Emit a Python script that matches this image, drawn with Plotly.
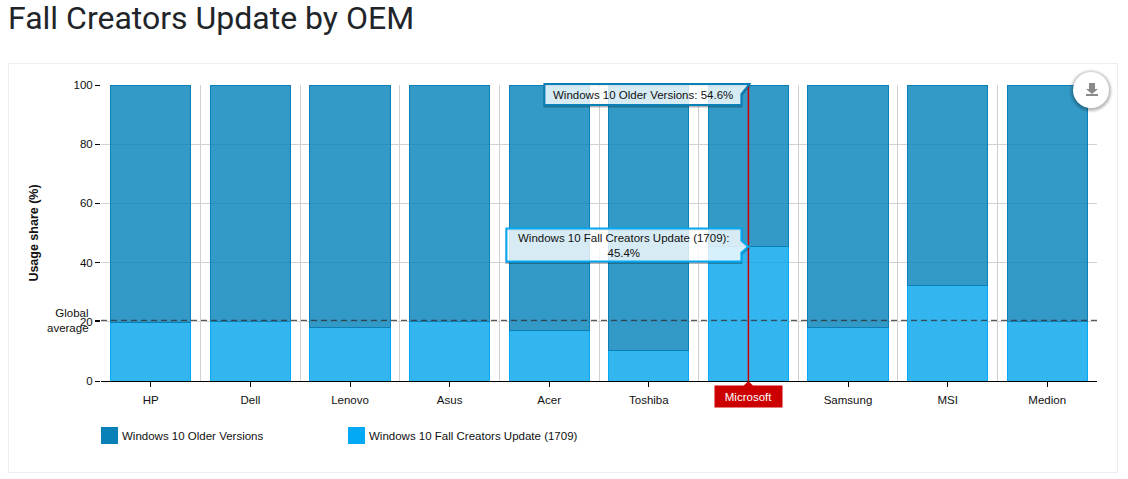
import plotly.graph_objects as go

oems = ["HP", "Dell", "Lenovo", "Asus", "Acer", "Toshiba", "Microsoft", "Samsung", "MSI", "Medion"]
fall_update = [19.6, 20.2, 18.1, 20.0, 17.0, 10.2, 45.4, 18.0, 32.2, 20.0]
older = [80.4, 79.8, 81.9, 80.0, 83.0, 89.8, 54.6, 82.0, 67.8, 80.0]
global_avg = 20.5
y_ticks = [0, 20, 40, 60, 80, 100]

OLDER_COL = "#0a80b8"
FALL_COL = "#03a9f4"
FONT = "Liberation Sans"

# plot area in page pixels
L, R, T, B = 101, 1097, 85, 381


def px(x):
    return (x - L) / (R - L)


def py(y):
    return (B - y) / (B - T)


idx = list(range(len(oems)))
hl = oems.index("Microsoft")
# the highlighted name sits in its own red label below
tick_text = ["" if i == hl else name for i, name in enumerate(oems)]

fig = go.Figure()
fig.add_bar(x=idx, y=fall_update, name="Windows 10 Fall Creators Update (1709)",
            marker=dict(color="rgba(0,164,236,0.8)", line=dict(color=FALL_COL, width=1)))
fig.add_bar(x=idx, y=older, name="Windows 10 Older Versions",
            marker=dict(color="rgba(0,128,184,0.8)", line=dict(color=OLDER_COL, width=1)))

fig.update_layout(
    width=1128, height=479, barmode="stack", bargap=0.195, showlegend=False,
    margin=dict(l=L, r=1128 - R, t=T, b=479 - B),
    paper_bgcolor="white", plot_bgcolor="white",
    font=dict(family=FONT, size=11.5, color="#111"),
    title=dict(text="Fall Creators Update by OEM", xref="container", yref="container",
               x=8 / 1128, y=1 - 18 / 479, xanchor="left", yanchor="middle",
               font=dict(family="Roboto", size=32, color="#212529")),
)
fig.update_xaxes(
    range=[-0.5, len(oems) - 0.5], tickmode="array", tickvals=idx, ticktext=tick_text,
    showgrid=False, zeroline=False, showline=True, linecolor="#000", linewidth=1,
    ticks="outside", ticklen=5, tickcolor="#000", ticklabelstandoff=3,
    tickfont=dict(size=11.5, color="#111"),
    minor=dict(tickmode="array", tickvals=[i + 0.5 for i in idx], showgrid=True,
               gridcolor="#d0d0d0", gridwidth=1, ticks=""),
)
fig.update_yaxes(
    range=[0, 100], tickmode="array", tickvals=y_ticks, showgrid=True, gridcolor="#d0d0d0",
    zeroline=False, showline=False, ticks="outside", ticklen=5, tickcolor="#000",
    tickfont=dict(size=11.5, color="#111"),
    minor=dict(tickmode="array", tickvals=[global_avg], ticks="outside", ticklen=5,
               tickcolor="#000", showgrid=False),
    title=dict(text="<b>Usage share (%)</b>", font=dict(size=12.5, color="#111"), standoff=32),
)


def pin_old(d=0):
    return f"M-204,{1 - d} L1,{1 - d} L-7,{-9 - d} L-7,{-20 - d} L-204,{-20 - d} Z"


def pin_fall(d=0):
    return (f"M-242,{18 - d} L-7,{18 - d} L-7,{6 - d} L0,{-d} L-7,{-6 - d} "
            f"L-7,{-15 - d} L-242,{-15 - d} Z")


shapes = []
# card behind the chart
shapes.append(dict(type="rect", xref="paper", yref="paper", x0=px(8.5), x1=px(1117.5), y0=py(472.5),
                   y1=py(63.5), line=dict(color="#eeeeee", width=1), fillcolor="white", layer="below"))
# global average
shapes.append(dict(type="line", xref="paper", yref="y", x0=0, x1=1, y0=global_avg, y1=global_avg,
                   line=dict(color="#333", width=1, dash="6px,4px")))
# crosshair
shapes.append(dict(type="line", xref="x", yref="paper", x0=hl, x1=hl, y0=0, y1=1,
                   line=dict(color="#cc0000", width=1.5)))
# pointer on the highlighted label
shapes.append(dict(type="path", xref="x", yref="paper", xsizemode="pixel", ysizemode="pixel",
                   xanchor=hl, yanchor=0, path="M-5,-5 L0,0 L5,-5 Z",
                   fillcolor="#cc0000", line=dict(width=0)))
# tooltips with a thin shadow line under them; paper yref keeps the top one from being clipped
for yref, anchor, pin, col in [("paper", 1, pin_old, OLDER_COL), ("y", fall_update[hl], pin_fall, FALL_COL)]:
    shapes.append(dict(type="path", xref="x", yref=yref, xsizemode="pixel", ysizemode="pixel",
                       xanchor=hl, yanchor=anchor, path=pin(1.5),
                       fillcolor="rgba(0,0,0,0)", line=dict(color="rgba(0,0,0,0.28)", width=2)))
    shapes.append(dict(type="path", xref="x", yref=yref, xsizemode="pixel", ysizemode="pixel",
                       xanchor=hl, yanchor=anchor, path=pin(),
                       fillcolor="rgba(255,255,255,0.8)", line=dict(color=col, width=2)))
# download button with a soft shadow
for grow, alpha in [(4, 0.04), (3, 0.06), (2, 0.08), (1, 0.1)]:
    shapes.append(dict(type="circle", xref="paper", yref="paper", x0=px(1073 - grow), x1=px(1109 + grow),
                       y0=py(109 + grow), y1=py(73 - grow), fillcolor=f"rgba(0,0,0,{alpha})", line=dict(width=0)))
shapes.append(dict(type="circle", xref="paper", yref="paper", x0=px(1073), x1=px(1109), y0=py(108),
                   y1=py(72), fillcolor="white", line=dict(width=0)))
shapes.append(dict(type="path", xref="paper", yref="paper", xsizemode="pixel", ysizemode="pixel",
                   xanchor=px(1092), yanchor=py(90),
                   path="M-3,7 L3,7 L3,1 L6,1 L0,-4 L-6,1 L-3,1 Z M-6,-6 L6,-6 L6,-4 L-6,-4 Z",
                   fillcolor="#8a8a8a", line=dict(width=0)))
# legend swatches
shapes.append(dict(type="rect", xref="paper", yref="paper", x0=px(101), x1=px(118), y0=py(444),
                   y1=py(427), fillcolor=OLDER_COL, line=dict(width=0)))
shapes.append(dict(type="rect", xref="paper", yref="paper", x0=px(348), x1=px(365), y0=py(444),
                   y1=py(427), fillcolor=FALL_COL, line=dict(width=0)))
fig.update_layout(shapes=shapes)


def label(text, x, y, **kw):
    return dict(text=text, xref="paper", yref="paper", x=px(x), y=py(y), yanchor="middle",
                showarrow=False, font=dict(size=11.5, color="#111"), **kw)


annotations = [
    dict(text="Global<br>average", xref="paper", yref="y", x=px(91), y=global_avg, xanchor="right",
         yanchor="middle", align="right", showarrow=False, font=dict(size=11.5, color="#111")),
    dict(text=oems[hl], xref="x", yref="paper", x=hl, y=py(396), yanchor="middle", showarrow=False,
         bgcolor="#cc0000", width=65, height=19, font=dict(size=11.5, color="white")),
    label(f"Windows 10 Older Versions: {older[hl]}%", 643, 95),
    label(f"Windows 10 Fall Creators Update (1709):<br>{fall_update[hl]}%", 624, 245.5),
    label("Windows 10 Older Versions", 120, 436, xanchor="left"),
    label("Windows 10 Fall Creators Update (1709)", 367, 436, xanchor="left"),
]
fig.update_layout(annotations=annotations)

fig.write_html("out.html", config=dict(displayModeBar=False),
               post_script="document.body.style.margin='0';")
